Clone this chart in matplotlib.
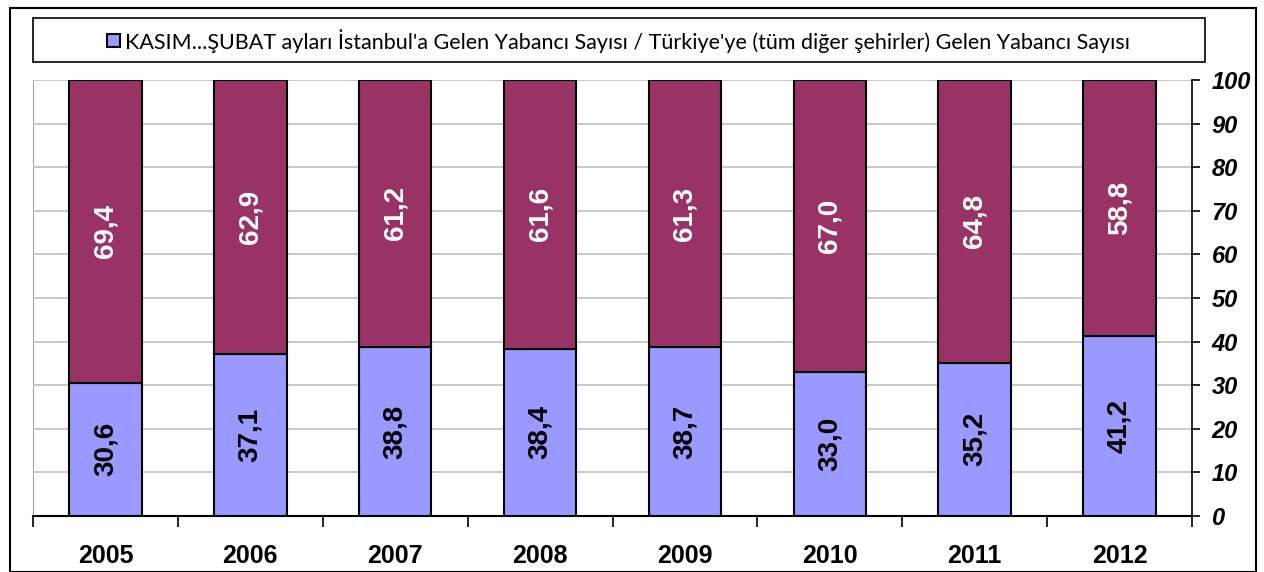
import matplotlib.pyplot as plt
import numpy as np
from matplotlib.patches import Rectangle

# data
years = ["2005", "2006", "2007", "2008", "2009", "2010", "2011", "2012"]
istanbul = [30.6, 37.1, 38.8, 38.4, 38.7, 33.0, 35.2, 41.2]
others = [69.4, 62.9, 61.2, 61.6, 61.3, 67.0, 64.8, 58.8]
yticks = [0, 10, 20, 30, 40, 50, 60, 70, 80, 90, 100]

legend_text = ("KASIM...ŞUBAT ayları İstanbul'a Gelen Yabancı Sayısı / "
               "Türkiye'ye (tüm diğer şehirler) Gelen Yabancı Sayısı")

c_low = "#9999FF"
c_top = "#993366"

fig = plt.figure(figsize=(12.64, 5.72), dpi=100)
W, H = 1264, 572
ax = fig.add_axes([33 / W, 1 - 516 / H, (1192 - 33) / W, (516 - 80) / H])

x = np.arange(len(years))
ax.bar(x, istanbul, width=0.5, color=c_low, edgecolor="black", linewidth=1.5, zorder=3)
ax.bar(x, others, width=0.5, bottom=istanbul, color=c_top, edgecolor="black",
       linewidth=1.5, zorder=3)

fnt = "Liberation Sans"
for i in range(len(years)):
    ax.text(x[i], istanbul[i] / 2, f"{istanbul[i]:.1f}".replace(".", ","),
            rotation=90, ha="center", va="center", fontsize=20, fontweight="bold",
            family=fnt, color="black", zorder=4)
    ax.text(x[i], istanbul[i] + others[i] / 2, f"{others[i]:.1f}".replace(".", ","),
            rotation=90, ha="center", va="center", fontsize=20, fontweight="bold",
            family=fnt, color="white", zorder=4)

ax.set_xlim(-0.5, len(years) - 0.5)
ax.set_ylim(0, 100)
ax.yaxis.tick_right()
ax.set_yticks(yticks)
ax.set_yticklabels([str(v) for v in yticks], fontsize=17, fontweight="bold",
                   style="italic", family=["Liberation Sans Narrow", fnt])
ax.tick_params(axis="y", direction="out", length=6, width=1.2, pad=8)
ax.grid(axis="y", color="#C0C0C0", linewidth=1.2, zorder=0)

ax.set_xticks(x)
ax.set_xticklabels(years, fontsize=18, fontweight="bold", family=fnt)
ax.tick_params(axis="x", length=0, pad=20)
ax.set_xticks(np.arange(-0.5, len(years)), minor=True)
ax.tick_params(axis="x", which="minor", length=8, width=1.2, direction="out")

for s in ["left", "top"]:
    ax.spines[s].set_visible(False)
ax.spines["right"].set_linewidth(1.2)
ax.spines["bottom"].set_linewidth(1.5)
ax.axvline(-0.5, color="#A0A0A0", linewidth=1.5, zorder=1)

# legend box at top
fig.patches.append(Rectangle((33 / W, 1 - 62 / H), (1205 - 33) / W, 44 / H,
                             transform=fig.transFigure, facecolor="white",
                             edgecolor="black", linewidth=1.2))
fig.patches.append(Rectangle((107 / W, 1 - 47 / H), 13 / W, 13 / H,
                             transform=fig.transFigure, facecolor=c_low,
                             edgecolor="black", linewidth=1.5))
fig.text(125 / W, 1 - 41 / H, legend_text, fontsize=15.5, family="Lato",
         ha="left", va="center")

# outer border
fig.patches.append(Rectangle((10 / W, 0), (1256 - 10) / W, 1 - 8 / H,
                             transform=fig.transFigure, facecolor="none",
                             edgecolor="black", linewidth=1.5))

fig.savefig("out.png", dpi=100)
